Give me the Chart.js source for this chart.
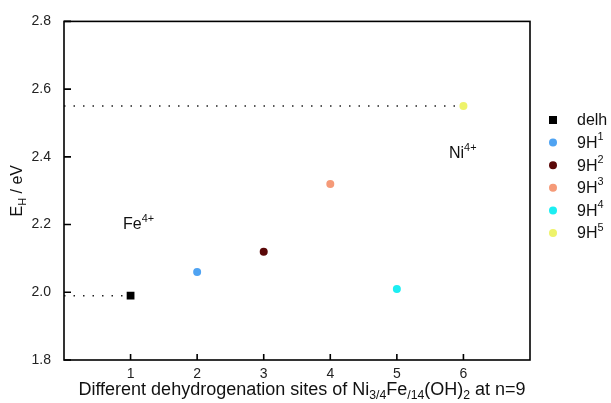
<!DOCTYPE html>
<html lang="en">
<head>
<meta charset="UTF-8">
<title>Dehydrogenation energy by site</title>
<script src="https://cdn.jsdelivr.net/npm/chart.js"></script>
<style>
  html, body { margin: 0; padding: 0; background: #fff; }
  #wrap { width: 611px; height: 403px; }
</style>
</head>
<body>
<div id="wrap"><canvas id="ehChart" width="611" height="403"></canvas></div>
<script>
// site index on x, dehydrogenation energy E_H (eV) on y
var sites = [1, 2, 3, 4, 5, 6];
var energies = [1.99, 2.06, 2.12, 2.32, 2.01, 2.55];
var seriesNames = ['delh', '9H^1', '9H^2', '9H^3', '9H^4', '9H^5'];
var seriesColors = ['#000000', '#4fa3f2', '#5a0808', '#f59a78', '#1ceef2', '#eef36a'];

// dotted guide lines run from the y axis to the delh and 9H5 points
var guideLevels = [1.99, 2.55];
var guideEnds = [0.97, 5.9];

var xTicks = [1, 2, 3, 4, 5, 6];
var yTicks = [1.8, 2.0, 2.2, 2.4, 2.6, 2.8];

var FONT = '"Liberation Sans", Arial, sans-serif';

// draws text with ^sup and _sub pieces, returns width
function richText(ctx, parts, x, y, size, align) {
    var total = 0;
    parts.forEach(function (p) {
        ctx.font = (p.s ? size * 0.68 : size) + 'px ' + FONT;
        p.w = ctx.measureText(p.t).width;
        total += p.w;
    });
    var cx = align === 'center' ? x - total / 2 : x;
    parts.forEach(function (p) {
        ctx.font = (p.s ? size * 0.68 : size) + 'px ' + FONT;
        var dy = p.s === 'sup' ? -size * 0.4 : (p.s === 'sub' ? size * 0.3 : 0);
        ctx.fillText(p.t, cx, y + dy);
        cx += p.w;
    });
    return total;
}

function splitName(name) {
    var bits = name.split('^');
    var parts = [{ t: bits[0] }];
    if (bits[1]) parts.push({ t: bits[1], s: 'sup' });
    return parts;
}

var datasets = [];
guideLevels.forEach(function (lvl, i) {
    datasets.push({
        type: 'line',
        order: 10,
        data: [{ x: 0, y: lvl }, { x: guideEnds[i], y: lvl }],
        borderColor: '#222',
        borderWidth: 1.5,
        borderDash: [1.5, 8],
        pointRadius: 0,
        showLine: true
    });
});
sites.forEach(function (s, i) {
    datasets.push({
        label: seriesNames[i],
        order: 0,
        data: [{ x: s, y: energies[i] }],
        backgroundColor: seriesColors[i],
        borderColor: seriesColors[i],
        pointStyle: i === 0 ? 'rect' : 'circle',
        pointRadius: i === 0 ? 5.5 : 4,
        borderWidth: 0
    });
});

var framePlugin = {
    id: 'frame',
    afterDraw: function (chart) {
        var ctx = chart.ctx;
        var a = chart.chartArea;
        var xs = chart.scales.x, ys = chart.scales.y;
        ctx.save();
        ctx.strokeStyle = '#000';
        ctx.lineWidth = 1.6;
        ctx.strokeRect(a.left, a.top, a.right - a.left, a.bottom - a.top);

        // inward tick marks
        ctx.beginPath();
        xTicks.forEach(function (v) {
            var px = xs.getPixelForValue(v);
            ctx.moveTo(px, a.bottom);
            ctx.lineTo(px, a.bottom - 6);
        });
        yTicks.forEach(function (v) {
            var py = ys.getPixelForValue(v);
            ctx.moveTo(a.left, py);
            ctx.lineTo(a.left + 7, py);
        });
        ctx.stroke();

        ctx.fillStyle = '#111';
        ctx.textBaseline = 'middle';

        // site labels
        richText(ctx, [{ t: 'Fe' }, { t: '4+', s: 'sup' }], 123, 225, 16, 'left');
        richText(ctx, [{ t: 'Ni' }, { t: '4+', s: 'sup' }], 449, 154, 16, 'left');

        // legend
        seriesNames.forEach(function (name, i) {
            var y = 120 + i * 22.6;
            ctx.fillStyle = seriesColors[i];
            if (i === 0) {
                ctx.fillRect(549, y - 4, 8, 8);
            } else {
                ctx.beginPath();
                ctx.arc(553, y, 4, 0, Math.PI * 2);
                ctx.fill();
            }
            ctx.fillStyle = '#111';
            richText(ctx, splitName(name), 577, y + 1, 16, 'left');
        });

        // axis titles
        richText(ctx, [
            { t: 'Different dehydrogenation sites of Ni' }, { t: '3/4', s: 'sub' },
            { t: 'Fe' }, { t: '/14', s: 'sub' },
            { t: '(OH)' }, { t: '2', s: 'sub' },
            { t: ' at n=9' }
        ], 302, 390, 18, 'center');

        ctx.translate(18, (a.top + a.bottom) / 2);
        ctx.rotate(-Math.PI / 2);
        richText(ctx, [{ t: 'E' }, { t: 'H', s: 'sub' }, { t: ' / eV' }], 0, 0, 16, 'center');
        ctx.restore();
    }
};

new Chart(document.getElementById('ehChart'), {
    type: 'scatter',
    data: { datasets: datasets },
    options: {
        responsive: false,
        animation: false,
        layout: { padding: { top: 18, right: 81, left: 0, bottom: 0 } },
        plugins: { legend: { display: false }, tooltip: { enabled: false } },
        scales: {
            x: {
                type: 'linear', min: 0, max: 7,
                afterBuildTicks: function (s) { s.ticks = xTicks.map(function (v) { return { value: v }; }); },
                afterFit: function (s) { s.height = 43; },
                grid: { display: false, drawTicks: false },
                border: { display: false },
                ticks: { color: '#222', padding: 6, font: { size: 14, family: FONT } }
            },
            y: {
                type: 'linear', min: 1.8, max: 2.8,
                afterBuildTicks: function (s) { s.ticks = yTicks.map(function (v) { return { value: v }; }); },
                afterFit: function (s) { s.width = 64; },
                grid: { display: false, drawTicks: false },
                border: { display: false },
                ticks: {
                    color: '#222', padding: 13, font: { size: 14, family: FONT },
                    callback: function (v) { return v.toFixed(1); }
                }
            }
        }
    },
    plugins: [framePlugin]
});
</script>
</body>
</html>
